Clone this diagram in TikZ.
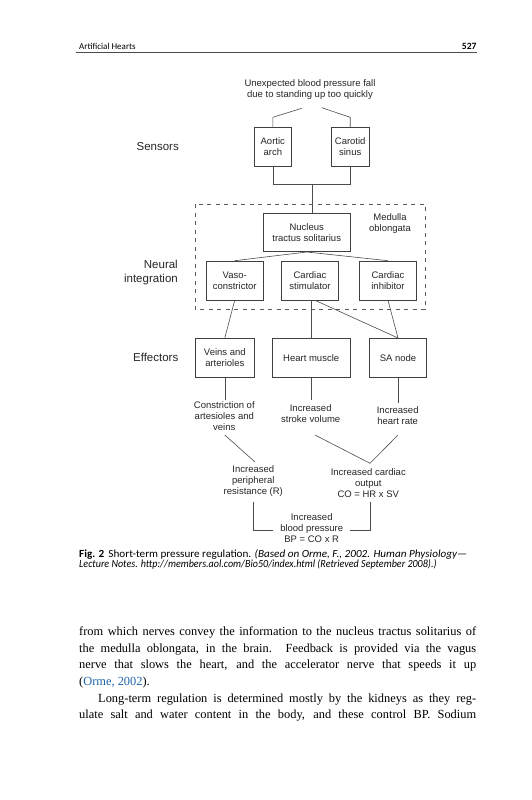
\documentclass[tikz,border=0pt]{standalone}
\usepackage{fontspec}
\setmainfont{Liberation Serif}
\newfontfamily\dsans{Liberation Sans}
\newfontfamily\hsans{Carlito}
\definecolor{linkblue}{RGB}{30,100,170}
\newcommand{\jline}[1]{\makebox[397pt][s]{#1}}
\begin{document}
\begin{tikzpicture}[x=1pt,y=-1pt,
  dg/.style={font=\dsans\fontsize{9.5}{11}\selectfont, align=center, inner sep=0pt, text=black!85},
  bx/.style={dg, draw=black!75, line width=0.6pt, minimum height=38.7pt},
  ln/.style={draw=black!70, line width=0.6pt},
  lbl/.style={font=\dsans\fontsize{11.5}{13.5}\selectfont, align=right, anchor=east, inner sep=0pt, text=black!85},
  body/.style={font=\fontsize{12.4}{16.6}\selectfont, anchor=base west, inner sep=0pt},
  capt/.style={font=\hsans\fontsize{10.9}{11}\selectfont, anchor=base west, inner sep=0pt}]
\useasboundingbox (0,0) rectangle (531,800);
\fill[white] (0,0) rectangle (531,800);

% header
\node[anchor=base west, inner sep=0pt, font=\hsans\fontsize{9}{10}\selectfont] (hl) at (79,49) {Artificial Hearts};
\node[anchor=base east, inner sep=0pt, font=\hsans\bfseries\fontsize{9.6}{11}\selectfont] (hr) at (476.7,49) {527};
\coordinate (hla) at (76,52.3);
\coordinate (hlb) at (476.7,52.3);
\draw[line width=0.6pt, black!70] (hla) -- (hlb);

% title and sensors
\node[dg] (ttl) at (310,90) {Unexpected blood pressure fall\\due to standing up too quickly};
\node[bx, minimum width=37.7pt] (aor) at (272.8,146.7) {Aortic\\arch};
\node[bx, minimum width=38.3pt] (car) at (350.2,146.7) {Carotid\\sinus};
\coordinate (tl) at (301.7,108.3);
\coordinate (tlb) at (272.8,117.3);
\coordinate (tr) at (321.7,107.7);
\coordinate (trb) at (350.2,117.3);
\draw[ln] (tl) -- (tlb) -- (aor.north);
\draw[ln] (tr) -- (trb) -- (car.north);
\coordinate (sj) at (312,184.3);
\draw[ln] (aor.south) |- (sj) -| (car.south);

% neural integration
\draw[black!65, line width=0.6pt, dash pattern=on 4pt off 4.5pt] (195,204) rectangle (425,309.3);
\node[bx, minimum width=86.7pt, minimum height=38.4pt] (nts) at (306.7,232.5) {Nucleus\\tractus solitarius};
\node[dg] (med) at (390,223.5) {Medulla\\oblongata};
\draw[ln] (sj) -- (sj |- nts.north);
\node[bx, minimum width=57.3pt, minimum height=39pt] (vaso) at (234.7,280.5) {Vaso-\\constrictor};
\node[bx, minimum width=56.6pt, minimum height=39pt] (stim) at (310,280.5) {Cardiac\\stimulator};
\node[bx, minimum width=57.4pt, minimum height=39pt] (inh) at (388,280.5) {Cardiac\\inhibitor};
\draw[ln] (nts.south) -- (vaso.north);
\draw[ln] (nts.south) -- (inh.north);

% effectors
\node[bx, minimum width=58.3pt, minimum height=39pt] (veins) at (224.8,357.8) {Veins and\\arterioles};
\node[bx, minimum width=77.7pt, minimum height=39pt] (heart) at (311.2,357.8) {Heart muscle};
\node[bx, minimum width=57.4pt, minimum height=39pt] (sa) at (398,357.8) {SA node};
\draw[ln] (vaso.south) -- (veins.north);
\draw[ln] (heart.north |- stim.south) -- (heart.north);
\draw[ln] ([xshift=5pt]stim.south) -- (sa.north);
\draw[ln] (inh.south) -- (sa.north);

% side labels
\node[lbl] (sen) at (179,147) {Sensors};
\node[lbl] (neu) at (178,272.5) {Neural\\integration};
\node[lbl] (eff) at (178.5,357.5) {Effectors};

% outcomes
\coordinate (ra) at (0,400);
\coordinate (rb) at (0,402.5);
\coordinate (rc) at (0,435);
\node[dg] (con) at (224.3,416) {Constriction of\\artesioles and\\veins};
\node[dg] (sv) at (310.7,413.8) {Increased\\stroke volume};
\node[dg] (hrate) at (397.7,415.5) {Increased\\heart rate};
\draw[ln] (veins.south) -- (veins.south |- ra);
\draw[ln] (heart.south) -- (heart.south |- ra);
\draw[ln] (sa.south) -- (sa.south |- rb);

\node[dg] (per) at (253.3,480.8) {Increased\\peripheral\\resistance (R)};
\node[dg] (co) at (368.3,483.3) {Increased cardiac\\output\\CO = HR x SV};
\node[dg] (bp) at (311.7,528) {Increased\\blood pressure\\BP = CO x R};
\coordinate (pj) at (255,462);
\coordinate (cj) at (370,463.3);
\coordinate (sva) at (315,435);
\draw[ln] (veins.south |- rc) -- (pj);
\draw[ln] (sva) -- (cj);
\draw[ln] (sa.south |- rc) -- (cj);
\coordinate (pb) at (253.3,501.7);
\coordinate (bpl) at (273.3,530.7);
\coordinate (cb) at (370,501.7);
\coordinate (bpr) at (350,530.7);
\draw[ln] (pb) |- (bpl);
\draw[ln] (cb) |- (bpr);

% caption
\node[capt] (c1) at (79,557.5) {\scalebox{1.025}[1]{\textbf{Fig. 2}\hspace{4pt}Short-term pressure regulation. \textit{(Based on Orme, F., 2002. Human Physiology—}}};
\node[capt] (c2) at (79,567.5) {\scalebox{0.925}[1]{\textit{Lecture Notes. http://members.aol.com/Bio50/index.html (Retrieved September 2008).)}}};

% body text
\node[body] (b1) at (79,635.7) {\jline{from which nerves convey the information to the nucleus tractus solitarius of}};
\node[body] (b2) at (79,652.3) {\jline{the medulla oblongata, in the brain. Feedback is provided via the vagus}};
\node[body] (b3) at (79,668.9) {\jline{nerve that slows the heart, and the accelerator nerve that speeds it up}};
\node[body] (b4) at (79,685.5) {(\textcolor{linkblue}{Orme, 2002}).};
\node[body] (b5) at (79,702.1) {\jline{\hspace*{19pt}Long-term regulation is determined mostly by the kidneys as they reg-}};
\node[body] (b6) at (79,718.7) {\jline{ulate salt and water content in the body, and these control BP. Sodium}};
\end{tikzpicture}
\end{document}
